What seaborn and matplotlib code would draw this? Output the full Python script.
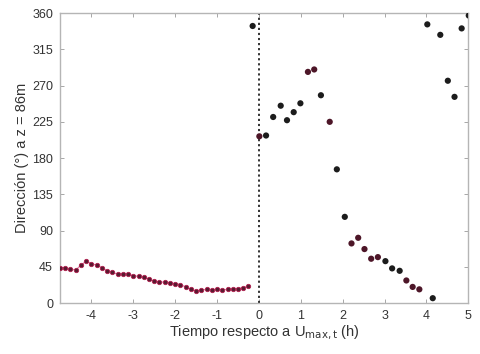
import matplotlib
matplotlib.use("Agg")
import matplotlib.pyplot as plt
import seaborn as sns
import pandas as pd

# Before the maximum: wind direction every 7.5 min
t_before = [-4.75, -4.625, -4.5, -4.375, -4.25, -4.125, -4.0, -3.875, -3.75,
            -3.625, -3.5, -3.375, -3.25, -3.125, -3.0, -2.875, -2.75, -2.625,
            -2.5, -2.375, -2.25, -2.125, -2.0, -1.875, -1.75, -1.625, -1.5,
            -1.375, -1.25, -1.125, -1.0, -0.875, -0.75, -0.625, -0.5, -0.375,
            -0.25]
dir_before = [44, 43, 42, 41, 47, 52, 49, 47, 44, 40, 38, 36, 36, 36, 34, 33,
              32, 30, 27, 26, 26, 25, 24, 23, 20, 17, 15, 16, 17, 16, 17, 16,
              17, 17, 18, 19, 21]

# After the maximum: scattered direction readings
t_after = [-0.15, 0.01, 0.17, 0.34, 0.52, 0.67, 0.83, 0.99, 1.17, 1.32, 1.48,
           1.69, 1.86, 2.05, 2.21, 2.37, 2.52, 2.68, 2.84, 3.02, 3.18, 3.36,
           3.52, 3.67, 3.83, 4.02, 4.15, 4.33, 4.51, 4.67, 4.84, 5.01]
dir_after = [344, 207, 208, 231, 245, 227, 237, 248, 287, 290, 258, 225, 166,
             107, 74, 81, 67, 55, 57, 52, 43, 40, 28, 20, 17, 346, 6, 333,
             276, 256, 341, 357]
tone_after = ["k", "r", "k", "k", "k", "k", "k", "k", "r", "r", "k", "r", "k",
              "k", "r", "r", "r", "r", "r", "k", "k", "k", "r", "r", "r", "k",
              "k", "k", "k", "k", "k", "k"]

x_ticks = [-4, -3, -2, -1, 0, 1, 2, 3, 4, 5]
y_ticks = [0, 45, 90, 135, 180, 225, 270, 315, 360]

sns.set_theme(style="white")
plt.rcParams["font.family"] = ["Liberation Sans", "DejaVu Sans"]

df_before = pd.DataFrame({"t": t_before, "dir": dir_before})
df_after = pd.DataFrame({"t": t_after, "dir": dir_after, "tone": tone_after})

fig = plt.figure(figsize=(4.81, 3.54), dpi=100)
ax = fig.add_axes([0.1247, 0.144, 0.849, 0.819])

ax.axvline(0, color="#222222", linestyle=(0, (1.2, 1.6)), linewidth=1.3,
           zorder=1)

sns.lineplot(data=df_before, x="t", y="dir", ax=ax, color="#c2185b",
             linewidth=0.8, alpha=0.6, zorder=2)
sns.scatterplot(data=df_before, x="t", y="dir", ax=ax, color="#5a1a30",
                s=10, edgecolor="#b0204f", linewidth=0.6, zorder=3)
sns.scatterplot(data=df_after, x="t", y="dir", hue="tone",
                palette={"k": "#1c1c1c", "r": "#4d1628"}, ax=ax, s=20,
                edgecolor="none", legend=False, zorder=3)

ax.set_xlim(-4.75, 5)
ax.set_ylim(0, 360)
ax.set_xticks(x_ticks)
ax.set_yticks(y_ticks)
ax.set_xticklabels([str(v) for v in x_ticks])
ax.set_yticklabels([str(v) for v in y_ticks])
ax.tick_params(direction="in", length=3, width=0.6, color="#999999",
               labelsize=9, labelcolor="#333333", top=True, right=True,
               bottom=True, left=True, pad=5)
for sp in ax.spines.values():
    sp.set_color("#b5b5b5")
    sp.set_linewidth(1.0)

ax.set_xlabel(r"Tiempo respecto a U$_{\mathrm{max,t}}$ (h)", fontsize=10.5,
              color="#333333", labelpad=1)
ax.set_ylabel("Dirección (°) a z = 86m", fontsize=10.5, color="#333333",
              labelpad=2)

fig.savefig("out.png", dpi=100)
